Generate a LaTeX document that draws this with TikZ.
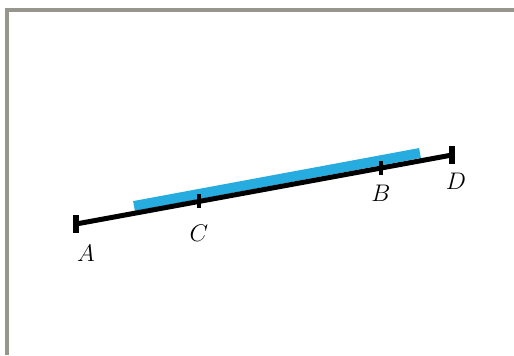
\documentclass[tikz,border=0pt]{standalone}
\usepackage{tikz}
\usetikzlibrary{calc}
\definecolor{myblue}{RGB}{38,172,222}
\definecolor{mygray}{RGB}{150,150,140}

\begin{document}
\begin{tikzpicture}[x=0.5pt, y=-0.5pt, font=\fontsize{12.5}{15}\selectfont]
				% Bildbereich
				\useasboundingbox (0,0) rectangle (514,355);
				% Rahmen zeichnen
				\draw[color=mygray, line width=1.6pt] (514,10) -- (7,10) -- (7,355);
				% Punkte
				\coordinate (A) at (76,224);
				\coordinate (D) at (452,155);
				\coordinate (C) at ($(A)!0.327!(D)$);
				\coordinate (B) at ($(A)!0.811!(D)$);
				% blaue Strecke
				\coordinate (b1) at (134,206);
				\coordinate (b2) at (420,153);
				\draw[myblue, line width=5pt] (b1) -- (b2);
				% Strecke AD zeichnen
				\draw[line width=2.5pt] (A) -- (D);
				\foreach \p in {A,D} \draw[line width=2.6pt] ($(\p)+(0,-9)$) -- ($(\p)+(0,9)$);
				\foreach \p in {C,B} \draw[line width=2.2pt] ($(\p)+(0,-7)$) -- ($(\p)+(0,7)$);
				% Beschriftung
				\node (lA) at (86,253) {$A$};
				\node (lC) at (199,233) {$C$};
				\node (lB) at (381,193) {$B$};
				\node (lD) at (456,181) {$D$};
		\end{tikzpicture}
\end{document}
